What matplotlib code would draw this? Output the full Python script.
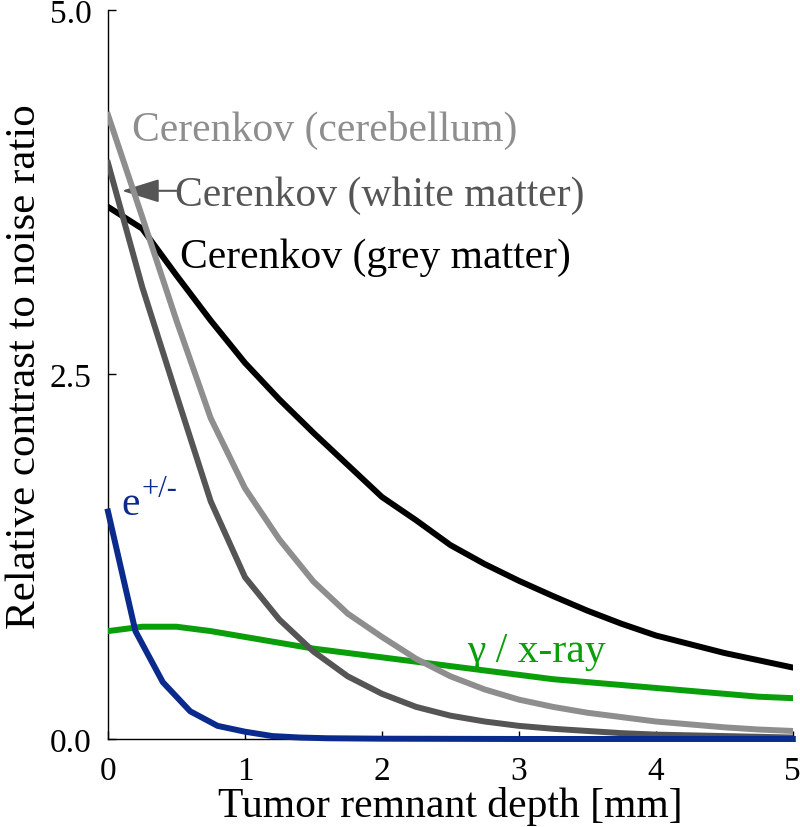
import numpy as np
import matplotlib.pyplot as plt

plt.rcParams["font.family"] = ["Liberation Serif", "DejaVu Serif"]

# depth grid shared by the Cerenkov and gamma curves [mm]
depth = [0.0, 0.25, 0.5, 0.75, 1.0, 1.25, 1.5, 1.75, 2.0, 2.25, 2.5,
         2.75, 3.0, 3.25, 3.5, 3.75, 4.0, 4.25, 4.5, 4.75, 5.0]

grey_matter = [3.65, 3.50, 3.18, 2.87, 2.58, 2.33, 2.10, 1.88, 1.66, 1.50, 1.33,
               1.20, 1.085, 0.98, 0.88, 0.79, 0.71, 0.65, 0.59, 0.54, 0.49]
cerebellum = [4.28, 3.58, 2.87, 2.20, 1.72, 1.37, 1.08, 0.86, 0.70, 0.55, 0.43,
              0.34, 0.27, 0.22, 0.18, 0.15, 0.12, 0.10, 0.08, 0.065, 0.055]
white_matter = [3.95, 3.10, 2.36, 1.63, 1.11, 0.82, 0.60, 0.43, 0.31, 0.22, 0.16,
                0.12, 0.09, 0.07, 0.055, 0.04, 0.03, 0.025, 0.02, 0.015, 0.01]
gamma = [0.74, 0.77, 0.77, 0.74, 0.70, 0.66, 0.62, 0.59, 0.56, 0.53, 0.50,
         0.47, 0.44, 0.41, 0.39, 0.37, 0.35, 0.33, 0.31, 0.29, 0.28]

# positrons/electrons, sampled finer near the surface
depth_beta = [0.0, 0.2, 0.4, 0.6, 0.8, 1.0, 1.2, 1.4, 1.6, 2.0, 3.0, 4.0, 5.0]
beta = [1.56, 0.74, 0.39, 0.19, 0.09, 0.05, 0.02, 0.01, 0.005, 0.002, 0.0, 0.0, 0.0]

c_cereb = "#8e8e8e"
c_white = "#555555"
c_grey = "#000000"
c_beta = "#0a2a8c"
c_gamma = "#0a9e0a"

fig = plt.figure(figsize=(8.0, 8.28), dpi=100)
ax = fig.add_axes([0.135, 0.1063, 0.856, 0.8804])

lw = 4.3
ax.plot(depth, gamma, color=c_gamma, lw=lw, zorder=3)
ax.plot(depth, grey_matter, color=c_grey, lw=lw, zorder=3)
ax.plot(depth, white_matter, color=c_white, lw=lw, zorder=4)
ax.plot(depth, cerebellum, color=c_cereb, lw=lw, zorder=4)
ax.plot(depth_beta, beta, color=c_beta, lw=lw, zorder=5, clip_on=False)

fs = 30
ax.text(0.175, 4.11, "Cerenkov (cerebellum)", color=c_cereb, fontsize=fs, va="baseline")
ax.text(0.49, 3.66, "Cerenkov (white matter)", color=c_white, fontsize=fs, va="baseline")
ax.annotate("", xy=(0.10, 3.76), xytext=(0.50, 3.76),
            arrowprops=dict(arrowstyle="-|>,head_length=0.9,head_width=0.28",
                            color=c_white, lw=1.5,
                            mutation_scale=26, shrinkA=0, shrinkB=0))
ax.text(0.525, 3.24, "Cerenkov (grey matter)", color=c_grey, fontsize=fs, va="baseline")
ax.text(0.10, 1.545, "e", color=c_beta, fontsize=fs, va="baseline")
ax.text(0.245, 1.67, "+/-", color=c_beta, fontsize=22, va="baseline")
ax.text(2.62, 0.535, "γ / x-ray", color=c_gamma, fontsize=fs, va="baseline")

ax.set_xlim(0, 5)
ax.set_ylim(0, 5)
ax.set_xticks([0, 1, 2, 3, 4, 5])
ax.set_yticks([0.0, 2.5, 5.0])
ax.set_yticklabels(["0.0", "2.5", "5.0"])
ax.tick_params(direction="in", length=6, width=1, labelsize=24)
ax.tick_params(axis="y", pad=12)
ax.tick_params(axis="x", pad=12)
for s in ["top", "right"]:
    ax.spines[s].set_visible(False)
for s in ["left", "bottom"]:
    ax.spines[s].set_linewidth(1.0)

ax.set_xlabel("Tumor remnant depth [mm]", fontsize=30, labelpad=0)
ax.set_ylabel("Relative contrast to noise ratio", fontsize=31)
ax.yaxis.set_label_coords(-0.094, 0.512)

fig.savefig("out.png", dpi=100)
